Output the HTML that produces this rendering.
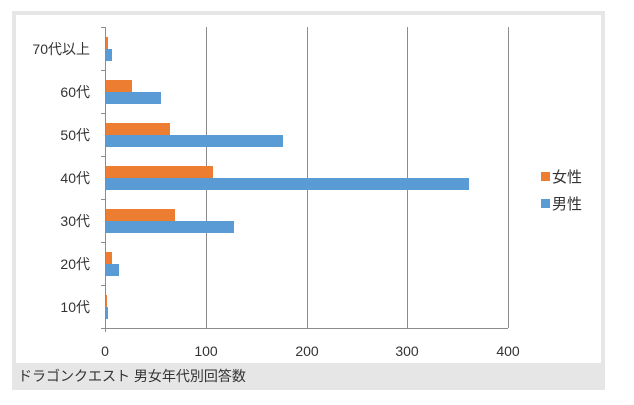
<!DOCTYPE html><html><head><meta charset="utf-8"><style>
body{margin:0;background:#fff;width:634px;height:400px;overflow:hidden;font-family:"Liberation Sans","Noto Sans CJK JP",sans-serif}
</style></head><body>
<svg width="634" height="400" xmlns="http://www.w3.org/2000/svg" font-family="Liberation Sans, Noto Sans CJK JP, sans-serif">
<rect x="12" y="11" width="593" height="379" fill="#e6e6e6"/>
<rect x="16" y="15" width="585" height="348" fill="#fff"/>
<g stroke="#8c8c8c" stroke-width="1">
<line x1="206.5" y1="27" x2="206.5" y2="328"/><line x1="307.5" y1="27" x2="307.5" y2="328"/>
<line x1="407.5" y1="27" x2="407.5" y2="328"/><line x1="508.5" y1="27" x2="508.5" y2="328"/>
<line x1="105.5" y1="27" x2="105.5" y2="332"/><line x1="101" y1="328.5" x2="508" y2="328.5"/>
<line x1="101" y1="27.5" x2="105" y2="27.5"/><line x1="101" y1="70.5" x2="105" y2="70.5"/><line x1="101" y1="113.5" x2="105" y2="113.5"/><line x1="101" y1="156.5" x2="105" y2="156.5"/><line x1="101" y1="199.5" x2="105" y2="199.5"/><line x1="101" y1="242.5" x2="105" y2="242.5"/><line x1="101" y1="285.5" x2="105" y2="285.5"/>
</g>
<g>
<rect x="106" y="37" width="2" height="12" fill="#ED7D31"/><rect x="106" y="49" width="6" height="12" fill="#5B9BD5"/>
<rect x="106" y="80" width="26" height="12" fill="#ED7D31"/><rect x="106" y="92" width="55" height="12" fill="#5B9BD5"/>
<rect x="106" y="123" width="64" height="12" fill="#ED7D31"/><rect x="106" y="135" width="177" height="12" fill="#5B9BD5"/>
<rect x="106" y="166" width="107" height="12" fill="#ED7D31"/><rect x="106" y="178" width="363" height="12" fill="#5B9BD5"/>
<rect x="106" y="209" width="69" height="12" fill="#ED7D31"/><rect x="106" y="221" width="128" height="12" fill="#5B9BD5"/>
<rect x="106" y="252" width="6" height="12" fill="#ED7D31"/><rect x="106" y="264" width="13" height="12" fill="#5B9BD5"/>
<rect x="106" y="295" width="1" height="12" fill="#ED7D31"/><rect x="106" y="307" width="2" height="12" fill="#5B9BD5"/>
</g>
<g font-size="14" fill="#333" text-anchor="end">
<text x="90" y="54">70代以上</text><text x="90" y="97">60代</text><text x="90" y="140">50代</text><text x="90" y="183">40代</text><text x="90" y="226">30代</text><text x="90" y="269">20代</text><text x="90" y="312">10代</text>
</g>
<g font-size="14" fill="#333" text-anchor="middle">
<text x="105" y="356">0</text><text x="206" y="356">100</text><text x="307" y="356">200</text><text x="407" y="356">300</text><text x="508" y="356">400</text>
</g>
<rect x="541" y="172" width="9" height="9" fill="#ED7D31"/><text x="552" y="182" font-size="15" fill="#333">女性</text>
<rect x="541" y="199" width="9" height="9" fill="#5B9BD5"/><text x="552" y="209" font-size="15" fill="#333">男性</text>
<text x="18" y="381" font-size="14" fill="#333">ドラゴンクエスト 男女年代別回答数</text>
</svg>
</body></html>
